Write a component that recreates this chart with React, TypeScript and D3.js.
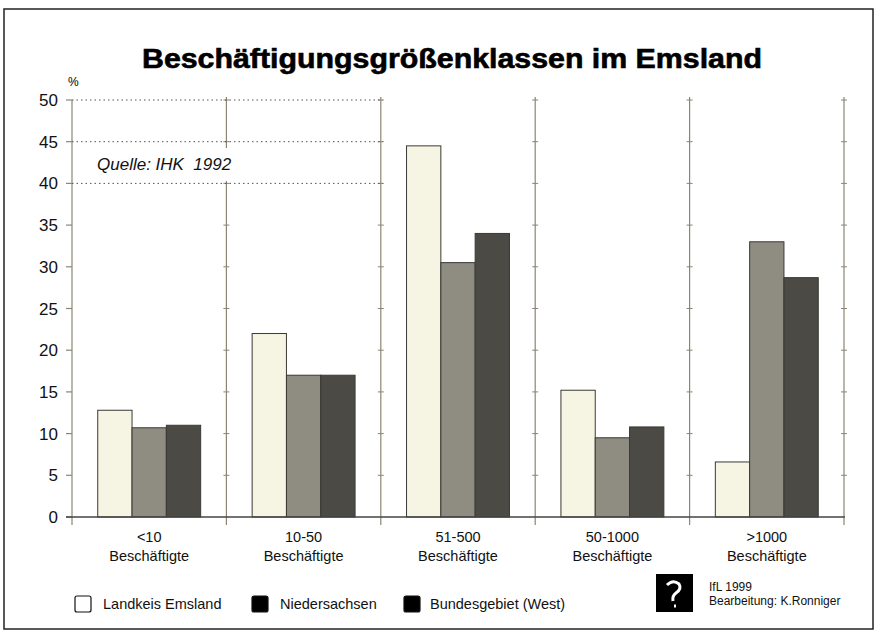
import React from 'react';
import * as d3 from 'd3';

// Beschäftigungsgrößenklassen, Anteil in %
const categories = ['<10', '10-50', '51-500', '50-1000', '>1000'];
const series = ['Landkeis Emsland', 'Niedersachsen', 'Bundesgebiet (West)'];
const emsland = [12.8, 22.0, 44.5, 15.2, 6.6];
const niedersachsen = [10.7, 17.0, 30.5, 9.5, 33.0];
const bundesgebiet = [11.0, 17.0, 34.0, 10.8, 28.7];
const yTicks = [0, 5, 10, 15, 20, 25, 30, 35, 40, 45, 50];
const gridTicks = [40, 45, 50];

const values = [emsland, niedersachsen, bundesgebiet];
const barFill = ['#f6f4e2', '#8f8c82', '#4b4a45'];
const legendFill = ['#ffffff', '#000000', '#000000'];

const W = 875;
const H = 631;
const font = 'Liberation Sans, Arial, Helvetica, sans-serif';

const App = () => {
    const x = d3.scaleBand().domain(categories).range([72, 844]);
    const xi = d3.scaleBand().domain(series).range([0, x.bandwidth()]).paddingOuter(0.75);
    const y = d3.scaleLinear().domain([0, 50]).range([517, 100]);

    // separator lines between the groups (not the y axis itself)
    const seps = categories.map((c) => x(c) + x.bandwidth());
    const lineCol = '#8a8672';

    return (
        <svg width={W} height={H} style={{position: 'absolute', left: 0, top: 0, background: '#fff'}}
             fontFamily={font}>
            <rect x={4} y={9} width={869} height={620} fill="none" stroke="#222" strokeWidth={1.5}/>

            <text x={452} y={68} textAnchor="middle" fontSize={27} fontWeight="bold"
                  textLength={620} lengthAdjust="spacingAndGlyphs" fill="#000"
                  stroke="#000" strokeWidth={0.6}>
                Beschäftigungsgrößenklassen im Emsland
            </text>

            <text x={68} y={86} fontSize={12} fill="#000">%</text>

            {/* y axis */}
            <line x1={72} x2={72} y1={y(50)} y2={525} stroke={lineCol} strokeWidth={1.2}/>
            {yTicks.map((t) => (
                <g key={'yt' + t}>
                    <line x1={66} x2={72} y1={y(t)} y2={y(t)} stroke={lineCol} strokeWidth={1.2}/>
                    <text x={58} y={y(t) + 6} textAnchor="end" fontSize={17} fill="#111">{t}</text>
                </g>
            ))}

            {/* separators with little ticks */}
            {seps.map((sx, i) => (
                <g key={'sep' + i}>
                    <line x1={sx} x2={sx} y1={y(50) - 3} y2={525} stroke={lineCol} strokeWidth={1.2}/>
                    {yTicks.filter((t) => t > 0).map((t) => (
                        <line key={t} x1={sx - 3} x2={sx + 3} y1={y(t)} y2={y(t)} stroke={lineCol} strokeWidth={1}/>
                    ))}
                </g>
            ))}

            {/* blank area for the source note */}
            <rect x={90} y={148} width={176} height={33} fill="#fff"/>

            {/* dotted grid in the left part */}
            {gridTicks.map((t) => (
                <line key={'g' + t} x1={72} x2={383} y1={y(t)} y2={y(t)} stroke="#555"
                      strokeWidth={1} strokeDasharray="1.5,3"/>
            ))}

            <text x={97} y={170} fontSize={17} fontStyle="italic" fill="#111" xmlSpace="preserve">
                Quelle: IHK  1992
            </text>

            {/* bars */}
            {categories.map((c, ci) => (
                <g key={c} transform={`translate(${x(c)},0)`}>
                    {series.map((s, si) => (
                        <rect key={s} x={xi(s)} y={y(values[si][ci])} width={xi.bandwidth()}
                              height={y(0) - y(values[si][ci])} fill={barFill[si]}
                              stroke="#3a3935" strokeWidth={1}/>
                    ))}
                </g>
            ))}

            {/* baseline */}
            <line x1={66} x2={845} y1={y(0)} y2={y(0)} stroke="#444" strokeWidth={1.5}/>

            {/* category labels */}
            {categories.map((c) => (
                <g key={'l' + c}>
                    <text x={x(c) + x.bandwidth() / 2} y={542} textAnchor="middle" fontSize={14.5} fill="#111">{c}</text>
                    <text x={x(c) + x.bandwidth() / 2} y={561} textAnchor="middle" fontSize={14.5} fill="#111">Beschäftigte</text>
                </g>
            ))}

            {/* legend */}
            {series.map((s, i) => {
                const lx = [75, 252, 404][i];
                const tx = [103, 280, 430][i];
                return (
                    <g key={'lg' + s}>
                        <rect x={lx} y={596} width={16} height={16} rx={2} fill={legendFill[i]} stroke="#111" strokeWidth={1.2}/>
                        <text x={tx} y={609} fontSize={14.5} fill="#111">{s}</text>
                    </g>
                );
            })}

            {/* credit */}
            <rect x={656} y={574} width={37} height={38} fill="#000"/>
            <path d="M667,585 q6,-6 12,-1 q3,5 -3,9 q-4,3 -3,8 M674,606 l2,0" stroke="#fff" strokeWidth={3} fill="none"/>
            <text x={709} y={591} fontSize={12} fill="#111">IfL 1999</text>
            <text x={709} y={605} fontSize={12} fill="#111">Bearbeitung: K.Ronniger</text>
        </svg>
    );
};

export default App;
